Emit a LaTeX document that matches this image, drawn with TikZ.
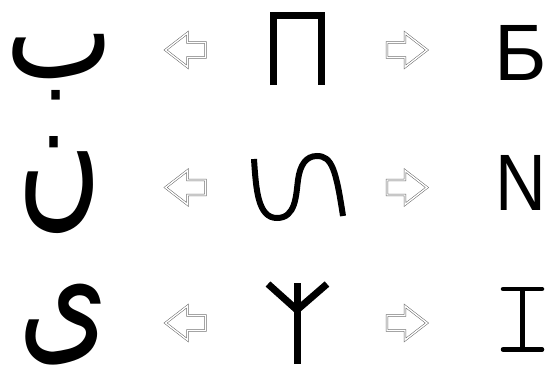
\documentclass[tikz,border=0pt]{standalone}
\usepackage{fontspec}
\setmainfont{Liberation Sans}
\newfontfamily\arabicfont[Script=Arabic]{DejaVu Sans}
\TeXXeTstate=1
\usetikzlibrary{positioning}

\begin{document}
\begin{tikzpicture}[
    x=1pt, y=-1pt,
    arabic/.style={inner sep=0pt, anchor=base, text depth=16pt,
                   font=\arabicfont\fontsize{115}{115}\selectfont},
    latin/.style={inner sep=0pt, anchor=base, font=\fontsize{80}{80}\selectfont},
    glyph/.style={line width=7pt, line cap=butt, line join=miter},
    hollow/.style={draw=gray!75!black, line width=0.5pt, double=white, double distance=1.4pt, line join=miter},
    rightarr/.pic={\draw[hollow] (-20,-7.5) -- (-2,-7.5) -- (-2,-17) -- (20,0)
                     -- (-2,17) -- (-2,7.5) -- (-20,7.5) -- cycle;},
    leftarr/.pic={\draw[hollow] (20,-7.5) -- (2,-7.5) -- (2,-17) -- (-20,0)
                     -- (2,17) -- (2,7.5) -- (20,7.5) -- cycle;}
]
\useasboundingbox (0,0) rectangle (548,364);

% left column
\node[arabic, text height=40pt, yscale=1.15, transform shape] (ba)  at (60,77)  {\beginR ب\endR};
\node[arabic, text height=52pt, yscale=1.35, transform shape] (nun) at (60,208) {\beginR ن\endR};
\node[arabic, text height=48pt, text depth=12pt, yscale=1.3, transform shape] (ya)  at (64,345) {\beginR ى\endR};

% arrows
\pic (la1) at (185.5,50)  {leftarr};
\pic (la2) at (185.5,187.5) {leftarr};
\pic (la3) at (185.5,323) {leftarr};
\pic (ra1) at (407,50)  {rightarr};
\pic (ra2) at (407,187.5) {rightarr};
\pic (ra3) at (407,323) {rightarr};

% middle column
\draw[glyph] (273.5,85) -- (273.5,15.5) -- (321.5,15.5) -- (321.5,85);
\draw[glyph, line width=6pt] (254,159) .. controls (256,190) and (258,218) .. (277,218)
    .. controls (296,218) and (296,195) .. (298,180)
    .. controls (300,165) and (306,156) .. (317,156)
    .. controls (332,156) and (336,170) .. (343,216);
\coordinate (fork) at (297,310);
\draw[glyph] (268,284) -- (fork) -- (327,284);
\draw[glyph] (297,283) -- (297,364);

% right column
\node[latin] (be) at (521,80)  {Б};
\node[latin, xscale=0.88, transform shape] (en) at (521,210) {N};
\coordinate (itop) at (522.5,289);
\coordinate (ibot) at (522.5,349.5);
\draw[line width=4.5pt, line cap=round] ([xshift=-19.5pt]itop) -- ([xshift=19.5pt]itop);
\draw[line width=4.5pt, line cap=round] ([xshift=-19.5pt]ibot) -- ([xshift=19.5pt]ibot);
\draw[line width=4.5pt] (itop) -- (ibot);
\end{tikzpicture}
\end{document}
